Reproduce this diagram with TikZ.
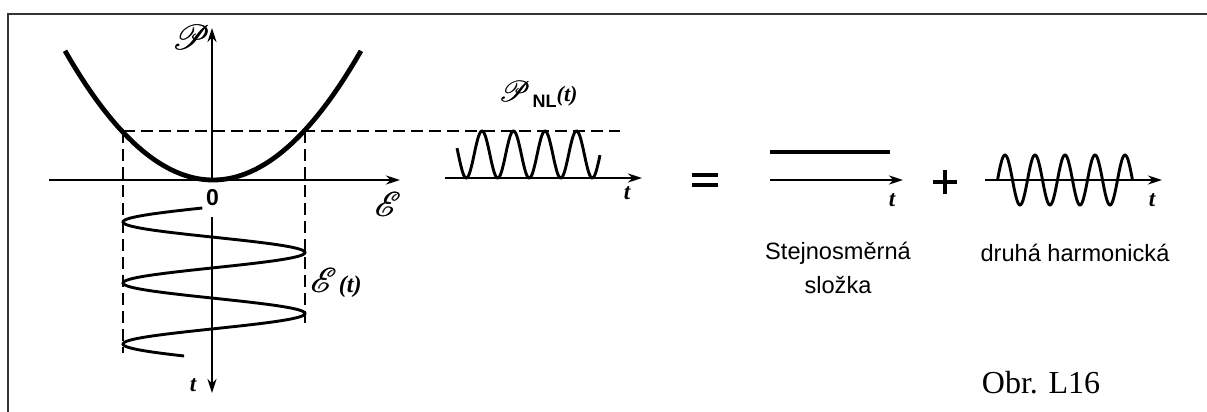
\documentclass[tikz,border=0pt]{standalone}
\usepackage{fontspec}
\usepackage{mathrsfs}
\setmainfont{Liberation Serif}
\setsansfont{Liberation Sans}
\usetikzlibrary{arrows.meta}
\newcommand\fbd[1]{\rlap{#1}\kern0.35pt#1}
\newcommand\scr[1]{\fbd{$\mathscr{#1}$}}
\tikzset{
  axis/.style={line width=1.2pt,-{Stealth[length=7pt,width=4.5pt]}},
  curve/.style={line width=1.45pt},
  dashline/.style={line width=0.9pt,dash pattern=on 6pt off 3pt},
  lbl/.style={inner sep=0pt},
  tl/.style={inner sep=0pt,font=\fontsize{11.5}{13}\selectfont\bfseries\itshape},
  cz/.style={inner sep=0pt,font=\sffamily\fontsize{11.8}{14}\selectfont},
}
\begin{document}
\begin{tikzpicture}[x=0.5pt,y=-0.5pt]
\useasboundingbox (0,0) rectangle (1207,412);
% frame
\draw[line width=1pt,black!80] (8,412) -- (8,14) -- (1207,14);
% left diagram
\coordinate (O) at (212,180);
\coordinate (Ptop) at (212,28);
\coordinate (Eleft) at (49,180);
\coordinate (Eright) at (400,180);
\coordinate (Ttop) at (212,217);
\coordinate (Tbot) at (212,393);
\draw[axis] (O) -- (Ptop);
\draw[axis] (Eleft) -- (Eright);
\draw[axis] (Ttop) -- (Tbot);
\draw[line width=2.4pt] plot[domain=-1.48:1.48,samples=80,smooth,variable=\u] ({213+100*\u},{180-59*(\u)*(\u)});
\coordinate (DL) at (123,131);
\coordinate (DR) at (305,131);
\coordinate (DE) at (620,131);
\draw[dashline] (DL) -- (DE);
\draw[dashline] (DL) -- (123,353);
\draw[dashline] (DR) -- (305,323);
\draw[curve] plot[domain=208:356,samples=200,smooth,variable=\u] ({214-91*cos((\u-222)/61*360)},{\u});
\node[lbl,font=\fontsize{16}{18}\selectfont] (lP) at (191,37) {\scr{P}};
\node[lbl,font=\sffamily\bfseries\fontsize{11.5}{13}\selectfont] (l0) at (212.5,198) {0};
\node[lbl,font=\fontsize{16}{18}\selectfont] (lE) at (388,204) {\scr{E}};
\node[tl] (lt1) at (193,385) {t};
\node[lbl] (lEt) at (336,283) {\fontsize{16}{18}\selectfont\scr{E}\kern1pt\fontsize{12}{14}\selectfont\textbf{\textit{(t)}}};
% P_NL(t)
\draw[axis] (445,178) -- (642,178);
\draw[curve] plot[domain=457:600,samples=200,smooth,variable=\u] ({\u},{154.5-23.5*cos((\u-482)/31.5*360)});
\node[lbl] (lPNL) at (538,94) {\fontsize{15}{17}\selectfont\scr{P}\kern1pt\raisebox{-3pt}{\sffamily\bfseries\fontsize{9}{11}\selectfont NL}\fontsize{11}{13}\selectfont\textbf{\textit{(t)}}};
\node[tl] (lt2) at (627,193) {t};
% equals
\draw[line width=2.2pt] (692,175) -- (718,175);
\draw[line width=2.2pt] (692,185) -- (718,185);
% DC
\draw[line width=1.7pt] (770,152) -- (890,152);
\draw[axis] (770,180) -- (903,180);
\node[tl] (lt3) at (892,200) {t};
% plus
\draw[line width=2.2pt] (933,182) -- (957,182);
\draw[line width=2.2pt] (945,170) -- (945,194);
% harmonic
\draw[axis] (985,180) -- (1162,180);
\draw[curve] plot[domain=997.5:1132.5,samples=200,smooth,variable=\u] ({\u},{180-25*sin((\u-997.5)/30*360)});
\node[tl] (lt4) at (1152,200) {t};
% texts
\node[cz] (s1) at (838,253) {Stejnosměrná};
\node[cz] (s2) at (838,285) {složka};
\node[cz] (s3) at (1075,253) {druhá harmonická};
\node[lbl,font=\fontsize{16}{18}\selectfont] (obr) at (1041,383) {Obr. L16};
\end{tikzpicture}
\end{document}
